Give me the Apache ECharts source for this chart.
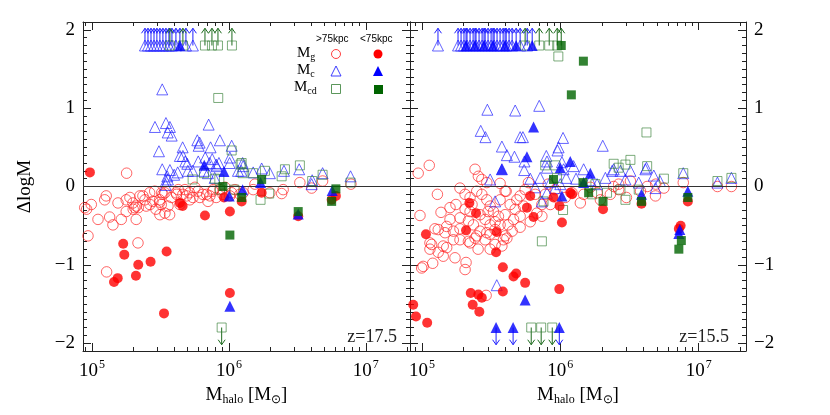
<!DOCTYPE html>
<html><head><meta charset="utf-8">
<script src="https://cdn.jsdelivr.net/npm/echarts@6/dist/echarts.min.js"></script>
<style>html,body{margin:0;padding:0;background:#fff}#c{width:830px;height:415px}</style>
</head><body><div id="c"></div><script>
// ---- DATA: [log10(Mhalo/Msun), ΔlogM] ----
// Left panel, z = 17.5
const L_Mg_out = [[4.947,-0.27],[4.995,-0.23],[4.971,-0.63],[5.044,-0.42],[5.104,-0.12],[5.093,-0.17],[5.190,-0.21],[5.129,-0.39],[5.153,-0.49],[5.214,-0.42],[5.250,-0.32],[5.250,-0.17],[5.299,-0.21],[5.312,-0.27],[5.323,-0.42],[5.336,-0.72],[5.372,-0.12],[5.421,-0.08],[5.445,-0.19],[5.494,-0.17],[5.518,-0.10],[5.555,-0.25],[5.567,-0.36],[5.579,-0.14],[5.615,-0.08],[5.664,-0.10],[5.713,-0.08],[5.737,-0.14],[5.774,-0.06],[5.810,-0.10],[5.847,-0.19],[5.883,-0.06],[5.907,-0.14],[5.956,-0.10],[5.323,-0.25],[5.396,-0.25],[5.458,-0.06],[5.506,-0.23],[5.253,0.17],[5.107,-1.09],[4.961,-0.29],[5.277,-0.14],[5.350,-0.12],[5.338,-0.27],[5.301,-0.29],[5.423,-0.23],[5.496,-0.20],[5.533,-0.34],[5.509,-0.08],[5.618,-0.10],[5.691,-0.12],[5.837,-0.10],[5.885,-0.04],[6.020,-0.08],[6.177,-0.04],[6.190,0.03],[6.518,0.05],[6.684,0.07],[6.891,0.03],[6.385,-0.09],[6.299,-0.08],[6.396,-0.04],[6.104,-0.08],[6.604,-0.02],[5.934,-0.04],[5.971,-0.01],[6.044,-0.04],[6.080,-0.10],[5.752,-0.01],[5.679,-0.04],[5.630,-0.04],[5.533,-0.08],[5.387,-0.17],[5.467,-0.29],[5.496,-0.36],[5.642,-0.23],[5.715,-0.17],[5.788,-0.14],[5.861,-0.12],[6.007,-0.12]];
const L_Mg_in = [[4.985,0.18],[5.642,-0.21],[5.662,-0.25],[5.825,-0.37],[6.007,-0.32],[5.964,-0.14],[6.239,-0.08],[6.093,-0.19],[6.506,-0.38],[6.781,-0.12],[5.228,-0.73],[5.236,-0.87],[5.545,-0.83],[5.428,-0.96],[5.338,-1.00],[5.321,-1.14],[5.188,-1.17],[5.161,-1.22],[6.007,-1.36],[5.526,-1.62],[6.750,-0.17]];
const L_Mc_out = [[5.513,1.24],[5.460,0.76],[5.540,0.81],[5.569,0.76],[5.553,0.69],[5.582,0.65],[5.852,0.79],[5.489,0.45],[5.662,0.50],[5.642,0.39],[5.769,0.59],[5.779,0.52],[5.866,0.50],[5.934,0.59],[6.020,0.52],[5.681,0.32],[5.696,0.29],[5.776,0.32],[5.827,0.37],[5.878,0.35],[5.927,0.30],[6.007,0.37],[5.513,0.22],[5.569,0.21],[5.626,0.18],[5.550,0.13],[5.540,0.07],[5.735,0.20],[5.818,0.20],[5.910,0.26],[6.104,0.26],[6.090,0.20],[6.177,0.18],[6.239,0.23],[6.299,0.17],[6.402,0.20],[6.513,0.22],[6.608,0.08],[6.684,0.17],[6.888,0.13],[6.100,0.30],[6.604,0.03],[5.600,0.15],[5.700,0.20],[5.860,0.30],[5.907,0.28],[6.005,0.30],[5.847,0.17],[5.896,0.11],[6.066,0.20],[5.538,0.02],[5.555,0.09],[5.664,0.39],[5.786,0.56]];
const L_Mc_in = [[5.820,0.27],[5.964,0.19],[6.002,-0.12],[6.100,-0.04],[6.754,-0.05],[6.007,-1.53],[6.506,-0.35],[6.231,0.05]];
const L_Mcd_out = [[5.922,1.13],[6.020,0.46],[5.735,0.09],[5.818,0.17],[5.898,0.10],[6.085,0.28],[6.177,0.17],[6.263,0.20],[6.409,0.22],[6.385,0.13],[6.518,0.27],[6.608,0.07],[6.684,0.15],[6.888,0.05],[5.934,-0.04],[6.231,-0.17],[6.294,-0.09],[6.093,0.30],[6.100,0.17],[5.930,0.09],[6.040,-0.04]];
const L_Mcd_in = [[6.007,-0.62],[6.506,-0.32],[6.750,-0.19],[6.781,-0.03],[6.239,0.09],[6.093,-0.14],[5.956,0.00]];
// limits (marker at ±LIMIT_Y with arrow)
const LIMIT_Y = 1.8;
const L_Mc_out_up = [5.387,5.409,5.431,5.453,5.474,5.496,5.518,5.540,5.562,5.584,5.613,5.686,5.737];
const L_Mc_in_up = [5.642];
const L_Mcd_out_up = [5.569,5.664,5.825,5.876,5.920,6.022];
const L_Mcd_out_down = [5.947];

// Right panel, z = 15.5
const R_Mg_out = [[4.973,0.17],[5.053,0.27],[5.275,-0.02],[5.112,-0.10],[5.384,0.22],[5.408,0.13],[5.433,0.09],[5.469,0.05],[5.565,0.04],[5.609,-0.06],[6.889,0.05],[7.136,0.00],[7.237,0.00],[6.628,0.00],[6.749,-0.02],[6.507,0.07],[6.422,0.03],[5.203,-0.27],[4.986,-0.37],[5.118,-0.55],[5.179,-0.51],[5.167,-0.59],[5.227,-0.57],[5.275,-0.54],[5.312,-0.29],[5.348,-0.14],[5.396,-0.06],[5.433,-0.10],[5.469,-0.17],[5.493,-0.25],[5.517,-0.32],[5.553,-0.38],[5.565,-0.49],[5.529,-0.55],[5.493,-0.61],[5.457,-0.68],[5.420,-0.57],[5.372,-0.49],[5.336,-0.44],[5.565,-0.17],[5.601,-0.06],[5.638,-0.23],[5.686,-0.17],[5.710,-0.12],[5.734,-0.25],[5.662,-0.42],[5.589,-0.68],[5.601,-0.63],[5.493,-0.49],[5.227,-0.68],[5.275,-0.68],[5.348,-0.72],[5.384,-0.66],[5.058,-0.72],[5.154,-0.76],[5.746,-0.04],[5.770,0.05],[5.831,-0.34],[5.867,-0.38],[5.867,-0.23],[5.710,-0.38],[5.819,-0.10],[5.094,-0.54],[5.070,-0.74],[5.154,-0.89],[5.009,-1.02],[4.998,-1.04],[5.078,-0.98],[5.319,-0.97],[5.312,-1.06],[5.464,-1.39],[5.058,-0.80],[5.118,-0.84],[5.179,-0.78],[5.336,-0.70],[5.396,-0.63],[5.469,-0.59],[5.614,-0.66],[5.578,-0.76],[6.688,-0.12],[6.478,-0.14],[6.145,-0.21],[6.169,-0.10],[6.266,-0.08],[6.386,0.00],[6.422,-0.04],[6.085,-0.08],[5.420,-0.36],[5.457,-0.42],[5.478,-0.32],[5.529,-0.45],[5.601,-0.36],[5.623,-0.49],[5.348,-0.32],[5.275,-0.40],[5.246,-0.23],[5.312,-0.10],[5.362,-0.23],[5.674,-0.29],[5.783,-0.45],[5.891,-0.10],[5.928,-0.23],[5.964,-0.04],[5.913,0.03],[6.036,-0.14],[6.217,-0.01],[6.290,-0.17],[6.362,-0.10],[6.580,-0.06],[6.690,0.03],[5.203,-0.42],[5.138,-0.33],[5.406,-0.80],[5.493,-0.80],[5.239,-0.91],[5.529,-0.74],[5.652,-0.57],[5.710,-0.52]];
const R_Mg_in = [[5.343,-0.21],[5.391,-0.34],[5.029,-0.61],[5.319,-0.56],[5.541,-0.58],[5.759,-0.27],[5.783,-0.12],[5.807,-0.39],[6.012,-0.46],[6.072,-0.08],[5.951,-0.14],[5.995,-0.25],[5.536,-0.84],[5.585,-1.03],[5.662,-1.15],[5.681,-1.11],[5.746,-1.23],[5.353,-1.36],[5.408,-1.38],[5.433,-1.42],[5.367,-1.51],[5.415,-1.60],[5.585,-1.34],[4.957,-1.66],[5.038,-1.74],[5.993,-1.31],[6.309,-0.29],[6.587,-0.22],[6.922,-0.19],[6.870,-0.50],[6.857,-0.54],[4.937,-1.51],[6.085,-0.10]];
const R_Mc_out = [[5.473,0.98],[5.674,0.97],[5.848,1.03],[5.425,0.71],[5.459,0.63],[5.710,0.63],[5.730,0.63],[6.020,0.62],[5.988,0.50],[5.980,0.46],[6.307,0.52],[5.578,0.51],[5.614,0.40],[5.669,0.38],[5.741,0.32],[5.899,0.39],[5.904,0.32],[5.578,0.22],[5.739,0.21],[5.783,0.10],[5.493,0.09],[5.904,0.24],[6.012,0.31],[6.024,0.22],[6.096,0.26],[6.169,0.22],[6.114,0.10],[6.375,0.20],[6.435,0.20],[6.507,0.20],[6.623,0.24],[6.676,0.14],[6.720,0.07],[6.889,0.17],[7.136,0.05],[7.237,0.11],[6.266,0.03],[6.567,0.05],[5.529,-0.19],[5.867,-0.19],[5.904,-0.08],[5.964,-0.02],[5.541,-1.26],[6.688,-0.02],[6.386,0.22],[6.615,0.22],[5.855,0.11],[5.928,0.06],[5.819,-0.01],[6.000,0.03],[6.043,0.11],[6.217,0.08],[6.326,0.11],[6.471,0.09]];
const R_Mc_in = [[5.807,0.76],[5.759,0.38],[6.072,0.32],[6.217,0.17],[6.000,0.24],[6.169,0.05],[6.922,-0.06],[6.587,-0.10],[5.578,0.22],[6.012,-0.12],[6.864,-0.55],[5.746,-1.45],[6.857,-0.60]];
const R_Mcd_out = [[6.623,0.69],[6.507,0.34],[6.471,0.28],[6.386,0.29],[6.422,0.24],[6.628,0.26],[6.749,0.10],[6.889,0.17],[7.136,0.07],[7.237,0.11],[5.891,0.27],[5.964,0.27],[6.254,0.03],[5.867,-0.70],[6.020,-0.30],[5.976,0.11],[5.879,-0.19],[6.471,-0.17],[6.338,-0.08],[6.230,-0.10],[6.567,-0.04],[6.435,-0.04],[5.986,1.66]];
const R_Mcd_in = [[6.309,-0.19],[6.587,-0.19],[6.922,-0.14],[6.875,-0.69],[6.857,-0.80],[6.205,-0.08],[6.164,0.05],[6.167,1.60],[6.080,1.17],[5.951,0.09]];
const R_Mc_out_up = [5.116,5.261,5.283,5.304,5.326,5.348,5.370,5.391,5.413,5.435,5.457,5.478,5.500,5.522,5.543,5.565,5.587,5.609,5.630,5.652,5.710,5.761];
const R_Mc_in_up = [5.319,5.384,5.449,5.514,5.601,5.681,5.797];
const R_Mcd_out_up = [5.746,5.848,5.920,5.978];
const R_Mcd_in_up = [6.007];
const R_Mc_in_down = [5.536,5.659,5.993];
const R_Mcd_out_down = [5.790,5.862,5.942];

// axis ranges / ticks
const X_RANGE_L = [8.6e4, 2.1e7];
const X_RANGE_R = [8.2e4, 2.2e7];
const Y_RANGE = [-2.1, 2.1];
const X_MAJOR = [1e5, 1e6, 1e7];
const X_MINOR = [2e4,3e4,4e4,5e4,6e4,7e4,8e4,9e4,2e5,3e5,4e5,5e5,6e5,7e5,8e5,9e5,2e6,3e6,4e6,5e6,6e6,7e6,8e6,9e6,2e7,3e7];
const Y_MAJOR = [-2, -1, 0, 1, 2];
const Y_MINOR = [-2.1,-1.9,-1.8,-1.7,-1.6,-1.5,-1.4,-1.3,-1.2,-1.1,-0.9,-0.8,-0.7,-0.6,-0.5,-0.4,-0.3,-0.2,-0.1,0.1,0.2,0.3,0.4,0.5,0.6,0.7,0.8,0.9,1.1,1.2,1.3,1.4,1.5,1.6,1.7,1.8,1.9,2.1];
const Z_LABELS = ['z=17.5', 'z=15.5'];

// ---- build ----
const FONT = 'Liberation Serif';
const AX = '#222';
const pts = a => a.map(p => [Math.pow(10, p[0]), p[1]]);
const lims = (a, y) => a.map(l => [Math.pow(10, l), y]);

const ST = {
  gOut: {symbol:'circle', symbolSize:10.5, itemStyle:{color:'rgba(0,0,0,0)', borderColor:'rgba(255,30,30,0.85)', borderWidth:1}},
  gIn: {symbol:'circle', symbolSize:10, itemStyle:{color:'#ff0000'}},
  cOut: {symbol:'triangle', symbolSize:11, itemStyle:{color:'rgba(0,0,0,0)', borderColor:'rgba(30,30,255,0.85)', borderWidth:1}},
  cIn: {symbol:'triangle', symbolSize:11, itemStyle:{color:'#0000ff'}},
  cdOut: {symbol:'rect', symbolSize:9, itemStyle:{color:'rgba(0,0,0,0)', borderColor:'rgba(50,125,50,0.8)', borderWidth:1}},
  cdIn: {symbol:'rect', symbolSize:9, itemStyle:{color:'#006400'}}
};

function xAxes(gi, rng, withName) {
  const base = {gridIndex:gi, type:'log', logBase:10, min:rng[0], max:rng[1], splitLine:{show:false}, minorTick:{show:false}, silent:true};
  const fmt = v => '{b|10}{s|' + Math.round(Math.log10(v)) + '}';
  return [
    Object.assign({}, base, {position:'bottom',
      axisLine:{show:true, onZero:false, lineStyle:{color:AX, width:1}},
      axisTick:{show:true, inside:true, length:8, customValues:X_MAJOR, lineStyle:{color:AX}},
      axisLabel:{show:true, customValues:X_MAJOR, formatter:fmt, margin:8, color:'#000',
        rich:{b:{fontFamily:FONT, fontSize:19, color:'#000'}, s:{fontFamily:FONT, fontSize:12, color:'#000', padding:[0,0,12,1]}}},
      name: withName ? '{m|M}{sub|halo}{m| [M}{sub|⊙}{m|]}' : '', nameLocation:'middle', nameGap:28,
      nameTextStyle:{rich:{m:{fontFamily:FONT, fontSize:19, color:'#000'}, sub:{fontFamily:FONT, fontSize:12, color:'#000', padding:[10,0,0,0]}}}
    }),
    Object.assign({}, base, {position:'bottom', axisLine:{show:false, onZero:false},
      axisTick:{show:true, inside:true, length:4, customValues:X_MINOR, lineStyle:{color:AX}}, axisLabel:{show:false}}),
    Object.assign({}, base, {position:'top', axisLine:{show:true, onZero:false, lineStyle:{color:AX, width:1}},
      axisTick:{show:true, inside:true, length:8, customValues:X_MAJOR, lineStyle:{color:AX}}, axisLabel:{show:false}}),
    Object.assign({}, base, {position:'top', axisLine:{show:false, onZero:false},
      axisTick:{show:true, inside:true, length:4, customValues:X_MINOR, lineStyle:{color:AX}}, axisLabel:{show:false}})
  ];
}
function yAxes(gi, labelSide, withName) {
  const base = {gridIndex:gi, type:'value', min:Y_RANGE[0], max:Y_RANGE[1], splitLine:{show:false}, minorTick:{show:false}, silent:true};
  const fmt = v => v < 0 ? '\u2212' + Math.abs(v) : String(v);
  const mk = (pos) => [
    Object.assign({}, base, {position:pos,
      axisLine:{show:true, onZero:false, lineStyle:{color:AX, width:1}},
      axisTick:{show:true, inside:true, length:8, customValues:Y_MAJOR, lineStyle:{color:AX}},
      axisLabel:{show: pos === labelSide, customValues:Y_MAJOR, formatter:fmt, margin:8, color:'#000', fontFamily:FONT, fontSize:19},
      name: (withName && pos === 'left') ? 'ΔlogM' : '', nameLocation:'middle', nameGap:48, nameRotate:90,
      nameTextStyle:{fontFamily:FONT, fontSize:19, color:'#000'}
    }),
    Object.assign({}, base, {position:pos, axisLine:{show:false, onZero:false},
      axisTick:{show:true, inside:true, length:4, customValues:Y_MINOR, lineStyle:{color:AX}}, axisLabel:{show:false}})
  ];
  return mk('left').concat(mk('right'));
}

function arrowSeries(xi, yi, data, color) {
  return {
    type:'custom', xAxisIndex:xi, yAxisIndex:yi, data, silent:true, clip:false, z:3,
    renderItem(params, api) {
      const x = api.value(0), y = api.value(1);
      const up = y > 0;
      const p0 = api.coord([x, y]);
      const p1 = api.coord([x, up ? 2.02 : -2.02]);
      const d = up ? 5 : -5;
      return {type:'group', children:[
        {type:'line', shape:{x1:p0[0], y1:p0[1], x2:p1[0], y2:p1[1]}, style:{stroke:color, lineWidth:1}},
        {type:'polyline', shape:{points:[[p1[0]-3.5, p1[1]+d],[p1[0], p1[1]],[p1[0]+3.5, p1[1]+d]]}, style:{stroke:color, fill:null, lineWidth:1}}
      ]};
    }
  };
}
function sc(xi, yi, data, st, z, extra) {
  return Object.assign({type:'scatter', xAxisIndex:xi, yAxisIndex:yi, data, silent:true, z:z||2,
    symbol:st.symbol, symbolSize:st.symbolSize, itemStyle:st.itemStyle, emphasis:{disabled:true}}, extra||{});
}

function panel(xi, yi, d) {
  const zero = {markLine:{silent:true, symbol:'none', animation:false, label:{show:false},
    lineStyle:{color:'#333', width:1, type:'solid'}, data:[{yAxis:0}]}};
  const s = [];
  s.push(sc(xi, yi, pts(d.gOut), ST.gOut, 2, zero));
  s.push(sc(xi, yi, pts(d.cOut), ST.cOut, 2));
  s.push(sc(xi, yi, pts(d.cdOut), ST.cdOut, 2));
  (d.arrows || []).forEach(a => s.push(arrowSeries(xi, yi, lims(a[0], a[1]), a[2])));
  s.push(sc(xi, yi, lims(d.cOutUp||[], LIMIT_Y), ST.cOut, 4));
  s.push(sc(xi, yi, lims(d.cdOutUp||[], LIMIT_Y), ST.cdOut, 4));
  s.push(sc(xi, yi, lims(d.cdOutDown||[], -LIMIT_Y), ST.cdOut, 4));
  s.push(sc(xi, yi, pts(d.gIn), ST.gIn, 5));
  s.push(sc(xi, yi, pts(d.cIn), ST.cIn, 6));
  s.push(sc(xi, yi, lims(d.cInUp||[], LIMIT_Y), ST.cIn, 6));
  s.push(sc(xi, yi, lims(d.cInDown||[], -LIMIT_Y), ST.cIn, 6));
  s.push(sc(xi, yi, pts(d.cdIn), ST.cdIn, 7));
  s.push(sc(xi, yi, lims(d.cdInUp||[], LIMIT_Y), ST.cdIn, 7));
  return s;
}

const BLUE_A = '#2020ff', GREEN_A = '#1d6b1d';
const series = [].concat(
  panel(0, 0, {gOut:L_Mg_out, gIn:L_Mg_in, cOut:L_Mc_out, cIn:L_Mc_in, cdOut:L_Mcd_out, cdIn:L_Mcd_in,
    cOutUp:L_Mc_out_up, cInUp:L_Mc_in_up, cdOutUp:L_Mcd_out_up, cdOutDown:L_Mcd_out_down,
    arrows:[[L_Mc_out_up, LIMIT_Y, BLUE_A],[L_Mc_in_up, LIMIT_Y, BLUE_A],[L_Mcd_out_up, LIMIT_Y, GREEN_A],[L_Mcd_out_down, -LIMIT_Y, GREEN_A]]}),
  panel(4, 4, {gOut:R_Mg_out, gIn:R_Mg_in, cOut:R_Mc_out, cIn:R_Mc_in, cdOut:R_Mcd_out, cdIn:R_Mcd_in,
    cOutUp:R_Mc_out_up, cInUp:R_Mc_in_up, cdOutUp:R_Mcd_out_up, cdInUp:R_Mcd_in_up, cInDown:R_Mc_in_down, cdOutDown:R_Mcd_out_down,
    arrows:[[R_Mc_out_up, LIMIT_Y, BLUE_A],[R_Mc_in_up, LIMIT_Y, BLUE_A],[R_Mcd_out_up, LIMIT_Y, GREEN_A],[R_Mcd_in_up, LIMIT_Y, GREEN_A],[R_Mc_in_down, -LIMIT_Y, BLUE_A],[R_Mcd_out_down, -LIMIT_Y, GREEN_A]]})
);

// legend (drawn as graphics)
const lgFont = '10px "Liberation Sans"';
const graphic = [
  {type:'text', left:316, top:34, style:{text:'>75kpc', font:lgFont, fill:'#000'}},
  {type:'text', left:360, top:34, style:{text:'<75kpc', font:lgFont, fill:'#000'}},
  {type:'text', left:297, top:46, style:{text:'{m|M}{s|g}', rich:{m:{font:'15px "Liberation Serif"', fill:'#000'}, s:{font:'10px "Liberation Serif"', fill:'#000', padding:[7,0,0,0]}}}},
  {type:'text', left:297, top:63, style:{text:'{m|M}{s|c}', rich:{m:{font:'15px "Liberation Serif"', fill:'#000'}, s:{font:'10px "Liberation Serif"', fill:'#000', padding:[7,0,0,0]}}}},
  {type:'text', left:294, top:80, style:{text:'{m|M}{s|cd}', rich:{m:{font:'15px "Liberation Serif"', fill:'#000'}, s:{font:'10px "Liberation Serif"', fill:'#000', padding:[7,0,0,0]}}}},
  {type:'circle', shape:{cx:336, cy:54, r:4.5}, style:{fill:null, stroke:'rgba(255,30,30,0.85)', lineWidth:1}},
  {type:'circle', shape:{cx:378, cy:54, r:4.5}, style:{fill:'#ff0000'}},
  {type:'polygon', shape:{points:[[336,66],[341,76],[331,76]]}, style:{fill:null, stroke:'rgba(30,30,255,0.85)', lineWidth:1}},
  {type:'polygon', shape:{points:[[378,66],[383,76],[373,76]]}, style:{fill:'#0000ff'}},
  {type:'rect', shape:{x:331.5, y:84.5, width:9, height:9}, style:{fill:null, stroke:'rgba(50,125,50,0.8)', lineWidth:1}},
  {type:'rect', shape:{x:374, y:85, width:9, height:9}, style:{fill:'#006400'}},
  {type:'text', right:830-397, top:328, style:{text:Z_LABELS[0], font:'18px "Liberation Serif"', fill:'#222'}},
  {type:'text', right:830-729, top:328, style:{text:Z_LABELS[1], font:'18px "Liberation Serif"', fill:'#222'}}
];

const option = {
  animation:false,
  backgroundColor:'#fff',
  grid:[
    {left:83, top:22, width:327, height:329, containLabel:false},
    {left:410, top:22, width:336, height:329, containLabel:false}
  ],
  xAxis: xAxes(0, X_RANGE_L, true).concat(xAxes(1, X_RANGE_R, true)),
  yAxis: yAxes(0, 'left', true).concat(yAxes(1, 'right', false)),
  series,
  graphic
};
const chart = echarts.init(document.getElementById('c'), null, {renderer:'canvas'});
chart.setOption(option);
</script></body></html>
